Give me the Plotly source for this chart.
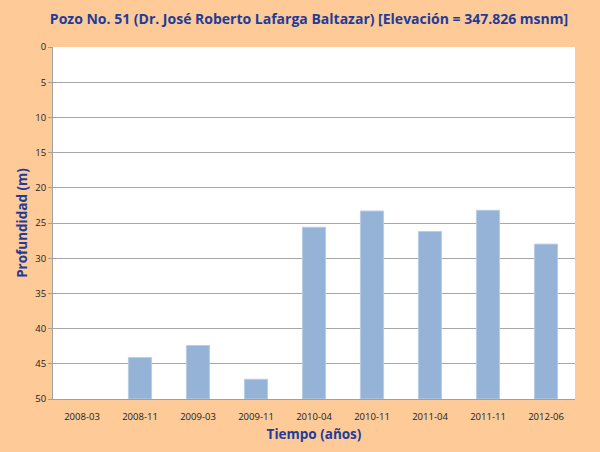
import plotly.graph_objects as go

categories = ["2008-03", "2008-11", "2009-03", "2009-11", "2010-04",
              "2010-11", "2011-04", "2011-11", "2012-06"]
depth = [None, 44.1, 42.4, 47.2, 25.6, 23.3, 26.2, 23.2, 28.0]
axis_bottom = 50

fig = go.Figure()
fig.add_trace(go.Bar(
    x=categories,
    y=[None if d is None else axis_bottom - d for d in depth],
    base=depth,
    marker=dict(color="#95B3D7", line=dict(color="#B9CDE5", width=1)),
    width=0.4,
))

fig.update_layout(
    width=600, height=452,
    paper_bgcolor="#FDCA98",
    plot_bgcolor="#FFFFFF",
    margin=dict(l=53, r=25, t=47, b=53),
    showlegend=False,
    title=dict(
        text="<b>Pozo No. 51 (Dr. José Roberto Lafarga Baltazar) [Elevación = 347.826 msnm]</b>",
        x=0.515, xanchor="center", y=0.958, yanchor="middle",
        font=dict(family="Open Sans", size=14, color="#1F3C99"),
    ),
    font=dict(family="Open Sans", size=10, color="#222222"),
)
fig.update_xaxes(
    type="category",
    showline=True, linecolor="#A0A0A0", linewidth=1,
    ticks="", ticklabelstandoff=9, tickfont=dict(size=9.5, color="#222222"),
    title=dict(text="<b>Tiempo (años)</b>", font=dict(size=13.5, color="#1F3C99"), standoff=7),
)
fig.update_yaxes(
    range=[50, 0], dtick=5,
    showline=True, linecolor="#A0A0A0", linewidth=1,
    ticks="outside", ticklen=4, tickcolor="#A0A0A0",
    showgrid=True, gridcolor="#A6A6A6", gridwidth=1,
    zeroline=False,
    tickfont=dict(size=9.5, color="#222222"),
    title=dict(text="<b>Profundidad (m)</b>", font=dict(size=13.5, color="#1F3C99"), standoff=4),
)

fig.write_html("out.html", config={"displayModeBar": False},
               post_script="document.body.style.margin='0';")
